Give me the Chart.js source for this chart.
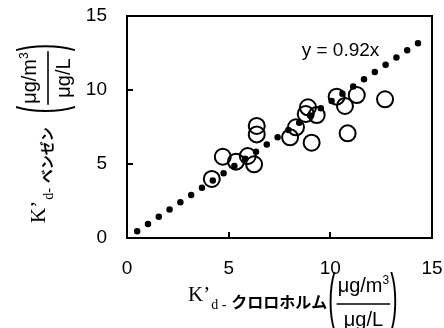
<!DOCTYPE html>
<html>
<head>
<meta charset="utf-8">
<script src="https://cdn.jsdelivr.net/npm/chart.js@4.4.1/dist/chart.umd.min.js"></script>
<style>
    html, body { margin: 0; padding: 0; background: #fff; }
    #display { display: block; }
</style>
</head>
<body>
<canvas id="display" width="444" height="328"></canvas>
<script>
// K'd: x = chloroform, y = benzene
const kdChloroform = [4.17, 4.71, 5.36, 5.94, 6.25, 6.38, 6.38, 8.02, 8.31, 8.90, 8.79, 9.08, 9.33, 10.31, 10.72, 11.30, 10.85, 12.69];
const kdBenzene = [3.99, 5.49, 5.16, 5.54, 4.98, 7.57, 7.00, 6.80, 7.48, 8.83, 8.38, 6.44, 8.31, 9.55, 8.92, 9.66, 7.07, 9.37];
// dotted fit line y = 0.92x, ends as drawn
const trendX = [0.5, 14.5];
const trendY = [0.46, 13.34];
const trendLabel = "y = 0.92x";
const tickValues = [0, 5, 10, 15];

const BLACK = "#000";
const SANS = "'Liberation Sans', Arial, sans-serif";
const SERIF = "'Liberation Serif', 'Times New Roman', serif";
const JP = "'Noto Sans CJK JP', sans-serif";

let pointsData = kdChloroform.map((x, i) => ({x: x, y: kdBenzene[i]}));
let trendData = trendX.map((x, i) => ({x: x, y: trendY[i]}));

// tall bracket made from a stretched "(" / ")"
let drawBracket = function (ctx, ch, u, v) {
    ctx.save();
    ctx.translate(u, v);
    ctx.scale(1, 2.9);
    ctx.font = "22px " + SANS;
    ctx.textBaseline = "middle";
    ctx.textAlign = "left";
    ctx.fillText(ch, 0, 0);
    ctx.restore();
};

// K'd-xxx (ug/m3 / ug/L), laid out left to right then rotated if needed
let drawTitle = function (ctx, ox, oy, rot, sub, jp, jpSize, gap) {
    ctx.save();
    ctx.translate(ox, oy);
    ctx.rotate(rot);
    ctx.fillStyle = BLACK;
    ctx.strokeStyle = BLACK;
    ctx.textAlign = "left";
    ctx.textBaseline = "alphabetic";

    let u = 0;
    ctx.font = "21px " + SERIF;
    ctx.fillText("K’", u, 0);
    u += ctx.measureText("K’").width + 1;

    ctx.font = "14px " + SERIF;
    ctx.fillText(sub, u, 8);
    u += ctx.measureText(sub).width + 5;

    ctx.font = "bold " + jpSize + "px " + JP;
    ctx.fillText(jp, u, 7);
    u += ctx.measureText(jp).width + gap;

    drawBracket(ctx, "(", u, -1);
    ctx.font = "22px " + SANS;
    u += ctx.measureText("(").width + 1;

    ctx.font = "20px " + SANS;
    const numW = ctx.measureText("μg/m").width;
    const denW = ctx.measureText("μg/L").width;
    ctx.font = "12px " + SANS;
    const supW = ctx.measureText("3").width;
    const fw = Math.max(numW + supW, denW) + 2;

    let nx = u + (fw - numW - supW) / 2;
    ctx.font = "20px " + SANS;
    ctx.fillText("μg/m", nx, -9);
    ctx.font = "12px " + SANS;
    ctx.fillText("3", nx + numW, -17);
    ctx.font = "20px " + SANS;
    ctx.fillText("μg/L", u + (fw - denW) / 2, 25);

    ctx.lineWidth = 1.6;
    ctx.beginPath();
    ctx.moveTo(u, 3);
    ctx.lineTo(u + fw, 3);
    ctx.stroke();

    drawBracket(ctx, ")", u + fw, -1);
    ctx.restore();
};

const framePlugin = {
    id: "frame",
    afterDraw: function (chart) {
        const ctx = chart.ctx;
        const a = chart.chartArea;
        const xs = chart.scales.x;
        const ys = chart.scales.y;
        ctx.save();
        ctx.strokeStyle = BLACK;
        ctx.lineWidth = 2;
        ctx.strokeRect(a.left, a.top, a.right - a.left, a.bottom - a.top);
        // inward tick marks
        ctx.beginPath();
        for (const t of xs.ticks) {
            const px = Math.round(xs.getPixelForValue(t.value));
            ctx.moveTo(px, a.bottom);
            ctx.lineTo(px, a.bottom - 6);
        }
        for (const t of ys.ticks) {
            const py = Math.round(ys.getPixelForValue(t.value));
            ctx.moveTo(a.left, py);
            ctx.lineTo(a.left + 6, py);
        }
        ctx.stroke();

        ctx.fillStyle = BLACK;
        ctx.font = "19px " + SANS;
        ctx.textAlign = "center";
        ctx.textBaseline = "middle";
        ctx.fillText(trendLabel, xs.getPixelForValue(10.5), ys.getPixelForValue(12.65));
        ctx.restore();

        drawTitle(ctx, 188, 301, 0, "d -", "クロロホルム", 16, 1);
        drawTitle(ctx, 45, 223, -Math.PI / 2, "d-", "ベンゼン", 14, 14);
    }
};

let axisTicks = function (scale) {
    scale.ticks = tickValues.map((v) => ({value: v}));
};

new Chart(document.getElementById("display"), {
    type: "scatter",
    data: {
        datasets: [{
            label: "fit",
            type: "line",
            data: trendData,
            borderColor: BLACK,
            borderWidth: 6.5,
            borderDash: [0, 13],
            borderCapStyle: "round",
            pointRadius: 0,
            fill: false
        }, {
            label: "K'd",
            data: pointsData,
            pointStyle: "circle",
            pointRadius: 8,
            pointBorderWidth: 2,
            pointBorderColor: BLACK,
            pointBackgroundColor: "rgba(0,0,0,0)"
        }]
    },
    options: {
        responsive: false,
        animation: false,
        devicePixelRatio: 1,
        layout: {padding: {top: 16, right: 12, left: 0, bottom: 0}},
        plugins: {
            legend: {display: false},
            tooltip: {enabled: false}
        },
        scales: {
            x: {
                type: "linear",
                min: 0,
                max: 15,
                afterBuildTicks: axisTicks,
                afterFit: (s) => { s.height = 90; s.paddingLeft = 0; s.paddingRight = 0; },
                grid: {display: false, drawTicks: false},
                border: {display: false},
                ticks: {color: BLACK, padding: 19, font: {family: SANS, size: 19}}
            },
            y: {
                type: "linear",
                min: 0,
                max: 15,
                afterBuildTicks: axisTicks,
                afterFit: (s) => { s.width = 127; s.paddingTop = 0; s.paddingBottom = 0; },
                grid: {display: false, drawTicks: false},
                border: {display: false},
                ticks: {color: BLACK, padding: 20, font: {family: SANS, size: 19}}
            }
        }
    },
    plugins: [framePlugin]
});
</script>
</body>
</html>
